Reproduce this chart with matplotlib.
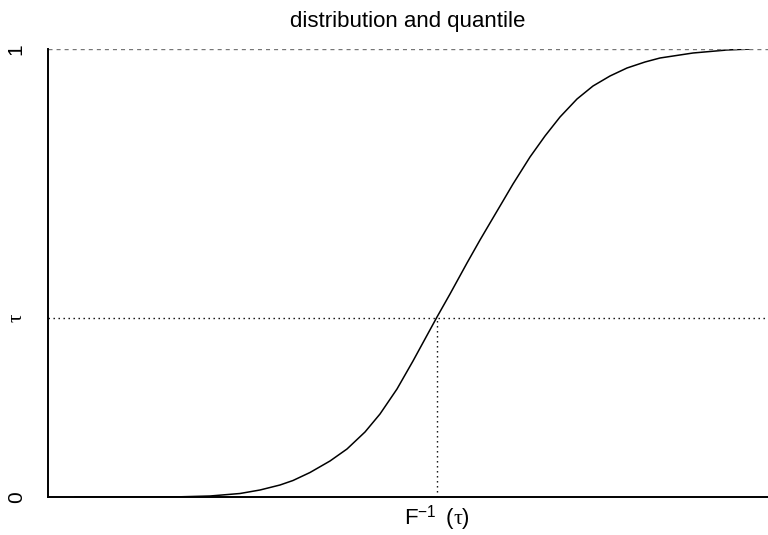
import matplotlib
matplotlib.use('Agg')
import matplotlib.pyplot as plt

plt.rcParams['font.family'] = ['Liberation Sans', 'DejaVu Sans']
plt.rcParams['mathtext.fontset'] = 'custom'
plt.rcParams['mathtext.rm'] = 'Liberation Sans'
plt.rcParams['mathtext.it'] = 'Liberation Serif'

# curve, in pixels of the 768x535 image
curve_px = [75, 140, 180, 210, 240, 260, 280, 293, 310, 330, 347, 365, 380, 397,
            413, 425, 437, 450, 467, 480, 490, 503, 513, 530, 545, 560, 577, 593,
            610, 627, 645, 660, 693, 727, 750]
curve_py = [497, 497, 496.8, 496, 493.5, 490, 485, 480.5, 472.5, 461, 449, 432, 414, 389,
            361, 339, 317, 294, 263, 240, 223, 201, 184, 157, 136, 117, 99, 86,
            76, 68, 62, 58, 53, 50, 49]
tau = 0.4
q_tau_px = 437
ytick_labels = ['0', r'$\tau$', '1']

# plot box: left=48, right=768, y=0 at 497, y=1 at 49
curve_x = [(p - 48) / 720 for p in curve_px]
curve_y = [(497 - p) / 448 for p in curve_py]
q_tau = (q_tau_px - 48) / 720

fig = plt.figure(figsize=(7.68, 5.35), dpi=100)
ax = fig.add_axes([48 / 768, 1 - 497 / 535, 1 - 48 / 768, 448 / 535])

ax.plot(curve_x, curve_y, color='black', lw=1.1, solid_joinstyle='round')
ax.axhline(1, color='#777777', lw=1, linestyle=(0, (2.9, 2.9)))
ax.axhline(tau, color='black', lw=1, linestyle=(0, (1, 2.6)))
ax.plot([q_tau, q_tau], [0, tau], color='black', lw=1, linestyle=(0, (1, 2.6)))

ax.set_xlim(0, 1)
ax.set_ylim(0, 1)
for s in ['top', 'right']:
    ax.spines[s].set_visible(False)
for s in ['left', 'bottom']:
    ax.spines[s].set_linewidth(1.4)

ax.set_yticks([0, tau, 1])
ax.set_yticklabels(ytick_labels, rotation=90, va='center', fontsize=15)
ax.set_xticks([q_tau])
ax.set_xticklabels([r'$\mathrm{F}^{-1}\;\;(\tau)$'], fontsize=16)
ax.tick_params(axis='y', length=0, pad=16)
ax.tick_params(axis='x', length=0, pad=5)

ax.set_title('distribution and quantile', fontsize=16, pad=16)

fig.savefig('out.png', dpi=100)
